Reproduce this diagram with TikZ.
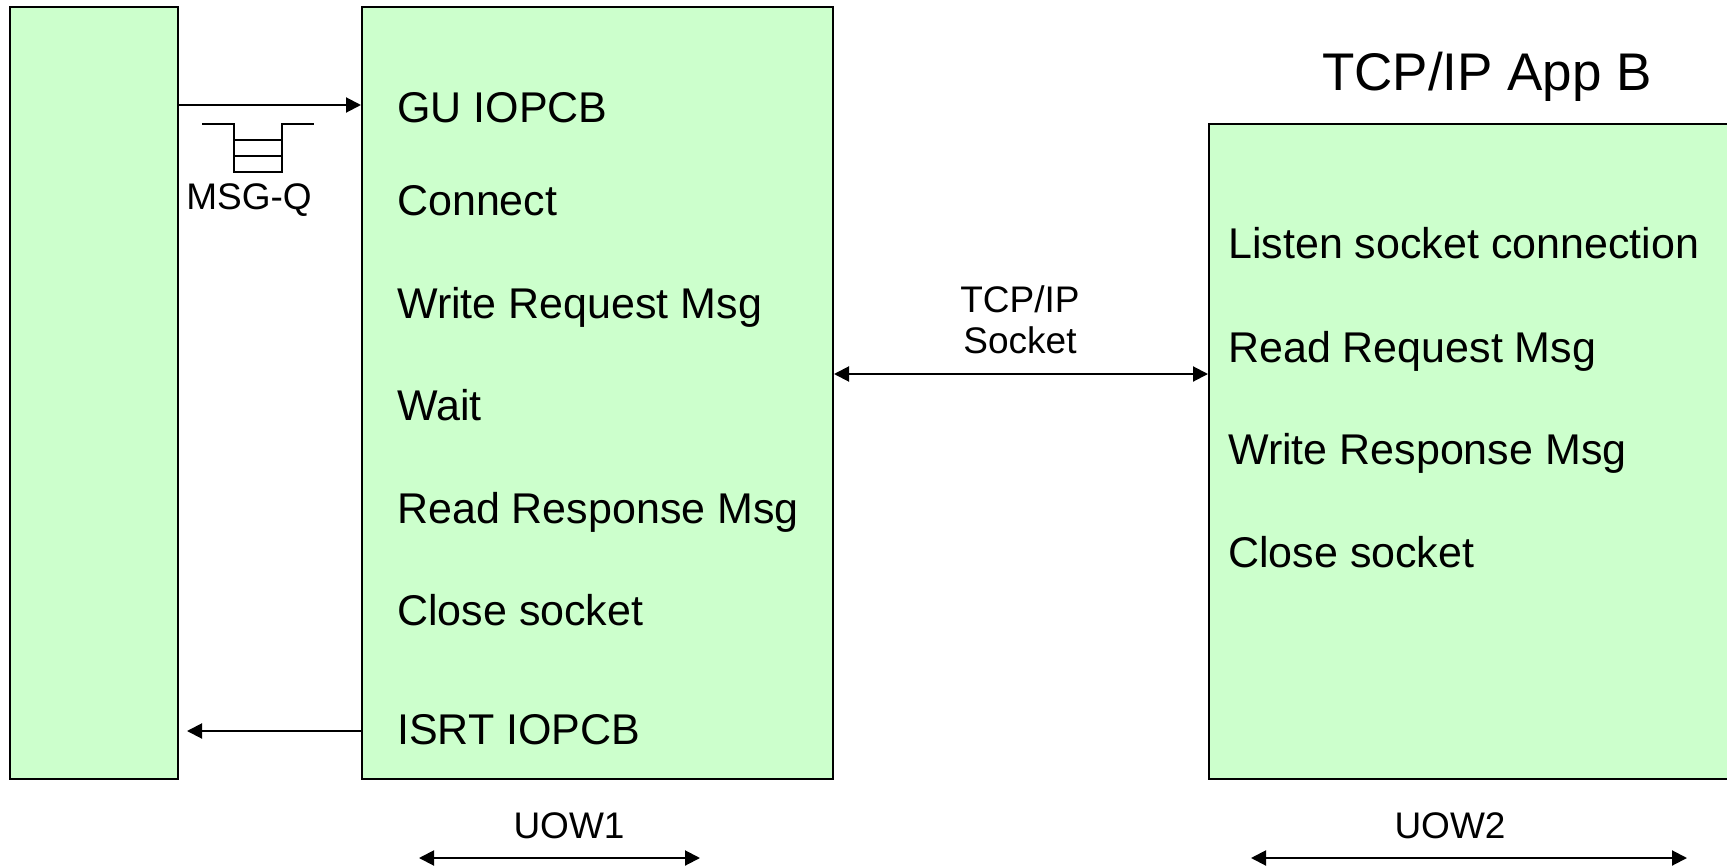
\documentclass[tikz,border=0pt]{standalone}
\usepackage{fontspec}
\setmainfont{Liberation Sans}
\usetikzlibrary{arrows.meta}
\definecolor{boxgreen}{HTML}{CCFFCC}
\begin{document}
\begin{tikzpicture}[x=1pt,y=-1pt,
  box/.style={draw=black,fill=boxgreen,line width=2pt,inner sep=0pt,rectangle},
  arr/.style={line width=2pt,-{Triangle[length=15pt,width=15pt]}},
  darr/.style={line width=2pt,{Triangle[length=15pt,width=15pt]}-{Triangle[length=15pt,width=15pt]}},
  big/.style={font=\fontsize{43}{50}\selectfont,inner sep=0pt,anchor=base west},
  small/.style={font=\fontsize{37}{42}\selectfont,inner sep=0pt,anchor=base},
  title/.style={font=\fontsize{53}{60}\selectfont,inner sep=0pt,anchor=base},
  queue/.style={line width=1.5pt}]
\useasboundingbox (0,0) rectangle (1727,867);
\clip (0,0) rectangle (1727,867);
% boxes
\node[box,minimum width=168pt,minimum height=772pt] (box1) at (94,393) {};
\node[box,minimum width=471pt,minimum height=772pt] (box2) at (597.5,393) {};
\node[box,minimum width=536pt,minimum height=655pt] (box3) at (1477,451.5) {};
% box 2 texts
\node[big] (t1) at (397,122) {GU IOPCB};
\node[big] (t2) at (397,215) {Connect};
\node[big] (t3) at (397,318) {Write Request Msg};
\node[big] (t4) at (397,420) {Wait};
\node[big] (t5) at (397,523) {Read Response Msg};
\node[big] (t6) at (397,625) {Close socket};
\node[big] (t7) at (397,744) {ISRT IOPCB};
% box 3 texts
\node[big] (s1) at (1228,258) {Listen socket connection};
\node[big] (s2) at (1228,362) {Read Request Msg};
\node[big] (s3) at (1228,464) {Write Response Msg};
\node[big] (s4) at (1228,567) {Close socket};
% title
\node[title] (ttl) at (1487,91) {TCP/IP App B};
% connectors
\coordinate (ya) at (0,105);
\coordinate (yb) at (0,731);
\coordinate (yc) at (0,374);
\draw[arr] (box1.east |- ya) -- (box2.west |- ya);
\draw[arr,shorten >=8pt] (box2.west |- yb) -- (box1.east |- yb);
\draw[darr] (box2.east |- yc) -- (box3.west |- yc);
% queue
\draw[queue] (202,124) -- (234,124) -- (234,172) -- (282,172) -- (282,124) -- (314,124);
\draw[queue] (234,140) -- (282,140);
\draw[queue] (234,156) -- (282,156);
\node[small] (mq) at (249,209) {MSG-Q};
% socket label
\node[small] (sk1) at (1020,312) {TCP/IP};
\node[small] (sk2) at (1020,353) {Socket};
% UOW
\node[small] (u1) at (569,838) {UOW1};
\node[small] (u2) at (1450,838) {UOW2};
\coordinate (u1a) at (419,858);
\coordinate (u1b) at (700,858);
\coordinate (u2a) at (1251,858);
\coordinate (u2b) at (1687,858);
\draw[darr] (u1a) -- (u1b);
\draw[darr] (u2a) -- (u2b);
\end{tikzpicture}
\end{document}
